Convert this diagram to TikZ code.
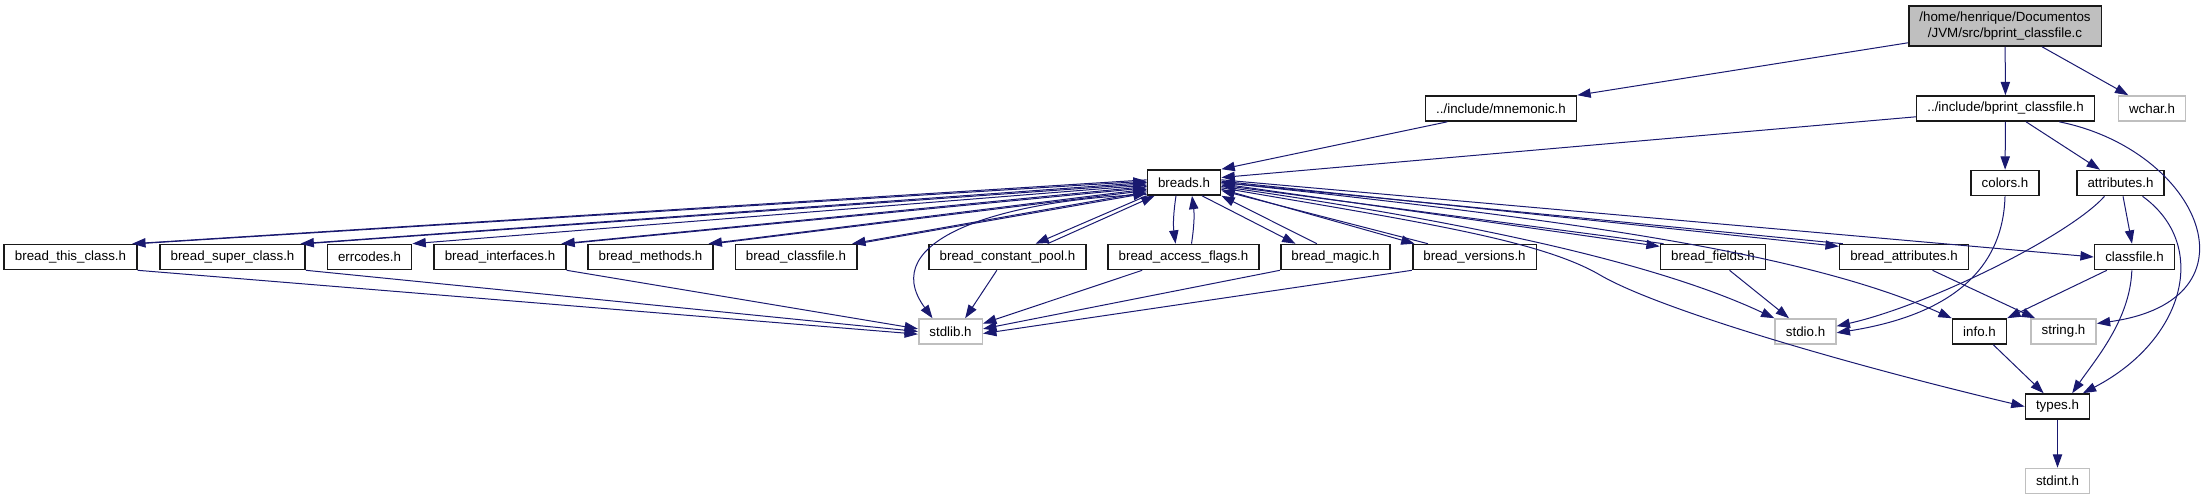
\documentclass[tikz,border=0pt]{standalone}
\usepackage{fontspec}
\setmainfont{Liberation Sans}
\usetikzlibrary{arrows.meta}
\definecolor{midnight}{HTML}{191970}
\definecolor{grey75}{HTML}{BFBFBF}
\tikzset{
  file/.style={draw=black!90, fill=white, line width=1.2pt, minimum height=18.75pt,
    inner xsep=8pt, inner ysep=0pt, font=\fontsize{10}{12}\selectfont},
  sysfile/.style={file, draw=grey75},
  rootfile/.style={file, fill=grey75, minimum width=142.5pt, minimum height=30pt, align=center},
  inc/.style={draw=midnight, line width=0.75pt, -{Triangle[length=10pt,width=7pt]}},
}
\begin{document}
\begin{tikzpicture}[x=0.75pt, y=-0.75pt]
  \useasboundingbox (0,0) rectangle (2208,500);
  % files
  \node[rootfile] (root) at (2005,26) {/home/henrique/Documentos\\/JVM/src/bprint\_classfile.c};
  \node[file] (mnem) at (1501,108.5) {../include/mnemonic.h};
  \node[file] (bprint) at (2005.5,108.5) {../include/bprint\_classfile.h};
  \node[sysfile] (wchar) at (2152,108.5) {wchar.h};
  \node[file] (breads) at (1184,182.5) {breads.h};
  \node[file] (colors) at (2005,183) {colors.h};
  \node[file] (attr) at (2120.5,183) {attributes.h};
  \foreach \n/\x/\t in {bthis/70.5/bread\_this\_class.h, bsuper/232.5/bread\_super\_class.h,
      errc/369.5/errcodes.h, binter/500/bread\_interfaces.h, bmeth/650.5/bread\_methods.h,
      bclass/796/bread\_classfile.h, bconst/1007.5/bread\_constant\_pool.h,
      bacc/1183.5/bread\_access\_flags.h, bmagic/1335.5/bread\_magic.h,
      bvers/1474.5/bread\_versions.h, bfields/1713/bread\_fields.h,
      battr/1904/bread\_attributes.h, classf/2134.5/classfile.h}
    \node[file] (\n) at (\x,257) {\t};
  \node[sysfile] (stdlib) at (950.5,331.5) {stdlib.h};
  \node[sysfile] (stdio) at (1805.5,331.5) {stdio.h};
  \node[file] (info) at (1979.5,331.5) {info.h};
  \node[sysfile] (string) at (2063.5,331.5) {string.h};
  \node[file] (types) at (2057.5,406.5) {types.h};
  \node[sysfile] (stdint) at (2057.5,481) {stdint.h};

  % top level includes
  \draw[inc] ([yshift=3pt]root.south west) -- (mnem.north east);
  \draw[inc] (root) -- (bprint);
  \draw[inc] (root) -- (wchar);
  \draw[inc] ([xshift=17pt]mnem.south west) -- (breads.north east);
  \draw[inc] ([yshift=3.75pt]bprint.south west) -- ([yshift=3.75pt]breads.east);
  \draw[inc] (bprint) -- (colors);
  \draw[inc] (bprint) -- (attr);
  \draw[inc] ([xshift=-27pt]bprint.south east) .. controls (2200,150) and (2265,300) .. ([yshift=6pt]string.east);

  % breads.h and the bread_*.h files that include it back
  \draw[inc] ([yshift=2pt]breads.west) -- ([xshift=-4pt]bthis.north east);
  \draw[inc] (bthis.north east) -- ([yshift=1pt]breads.west);
  \draw[inc] ([yshift=0pt]breads.west) -- ([xshift=-4pt]bsuper.north east);
  \draw[inc] (bsuper.north east) -- ([yshift=-1pt]breads.west);
  \draw[inc] ([yshift=-2pt]breads.west) -- (errc.north east);
  \draw[inc] ([yshift=-3pt]breads.west) -- ([xshift=-4pt]binter.north east);
  \draw[inc] (binter.north east) -- ([yshift=-4pt]breads.west);
  \draw[inc] ([yshift=-5pt]breads.west) -- ([xshift=-4pt]bmeth.north east);
  \draw[inc] (bmeth.north east) -- ([yshift=-6pt]breads.west);
  \draw[inc] ([yshift=-7pt]breads.west) -- ([xshift=-4pt]bclass.north east);
  \draw[inc] (bclass.north east) -- ([yshift=-8pt]breads.west);
  \draw[inc] ([yshift=-9pt]breads.west) .. controls (1000,200) and (875,240) .. ([xshift=-13.5pt]stdlib.north);
  \draw[inc] (breads.south west) -- ([xshift=21pt]bconst.north);
  \draw[inc] ([xshift=30pt]bconst.north) -- ([xshift=6pt]breads.south west);
  \draw[inc] ([xshift=-6pt]breads.south) to[bend right=8] ([xshift=-6pt]bacc.north);
  \draw[inc] ([xshift=6pt]bacc.north) to[bend right=8] ([xshift=6pt]breads.south);
  \draw[inc] ([xshift=13.5pt]breads.south) -- ([xshift=-30pt]bmagic.north);
  \draw[inc] ([xshift=-14pt]bmagic.north) -- (breads.south east);
  \draw[inc] ([yshift=-5pt]breads.east) -- ([xshift=2pt]bvers.north west);
  \draw[inc] ([xshift=12pt]bvers.north west) -- ([yshift=-6pt]breads.east);
  \draw[inc] ([yshift=-1pt]breads.east) -- ([yshift=-2pt]bfields.north west);
  \draw[inc] ([xshift=3pt]bfields.north west) -- ([yshift=-2pt]breads.east);
  \draw[inc] ([yshift=1pt]breads.east) -- ([yshift=-2pt]battr.north west);
  \draw[inc] ([xshift=3pt]battr.north west) -- ([yshift=0pt]breads.east);
  \draw[inc] ([yshift=2pt]breads.east) -- (classf.west);
  \draw[inc] ([yshift=-3pt]breads.east) .. controls (1420,215) and (1640,255) .. (stdio.north west);
  \draw[inc] ([yshift=0pt]breads.east) .. controls (1550,218) and (1800,250) .. (info.north west);
  \draw[inc] ([yshift=-4pt]breads.east) .. controls (1420,222) and (1540,240) .. (1600,275)
    .. controls (1660,310) and (1850,365) .. (types.west);

  % system headers
  \draw[inc] (bthis.south east) -- ([yshift=-2pt]stdlib.west);
  \draw[inc] (bsuper.south east) -- (stdlib.west);
  \draw[inc] (binter.south east) -- ([yshift=2pt]stdlib.west);
  \draw[inc] ([xshift=-8pt]bconst.south) -- ([xshift=11pt]stdlib.north);
  \draw[inc] ([xshift=-31pt]bacc.south) -- ([yshift=6pt]stdlib.east);
  \draw[inc] (bmagic.south west) -- ([yshift=2pt]stdlib.east);
  \draw[inc] (bvers.south west) -- ([yshift=-1.5pt]stdlib.east);
  \draw[inc] (bfields) -- (stdio);
  \draw[inc] (battr) -- (string);
  \draw[inc] (colors.south) .. controls (2003,270) and (1950,315) .. ([yshift=-1pt]stdio.east);
  \draw[inc] ([xshift=-12pt]attr.south) .. controls (2070,235) and (1930,305) .. ([yshift=4pt]stdio.east);
  \draw[inc] (attr) -- (classf);
  \draw[inc] ([xshift=16.5pt]attr.south) .. controls (2210,245) and (2185,340) .. ([xshift=19pt]types.north);
  \draw[inc] (classf) -- (info);
  \draw[inc] ([xshift=-2pt]classf.south) .. controls (2130,320) and (2095,360) .. ([xshift=11pt]types.north);
  \draw[inc] (info) -- (types);
  \draw[inc] (types) -- (stdint);
\end{tikzpicture}
\end{document}
